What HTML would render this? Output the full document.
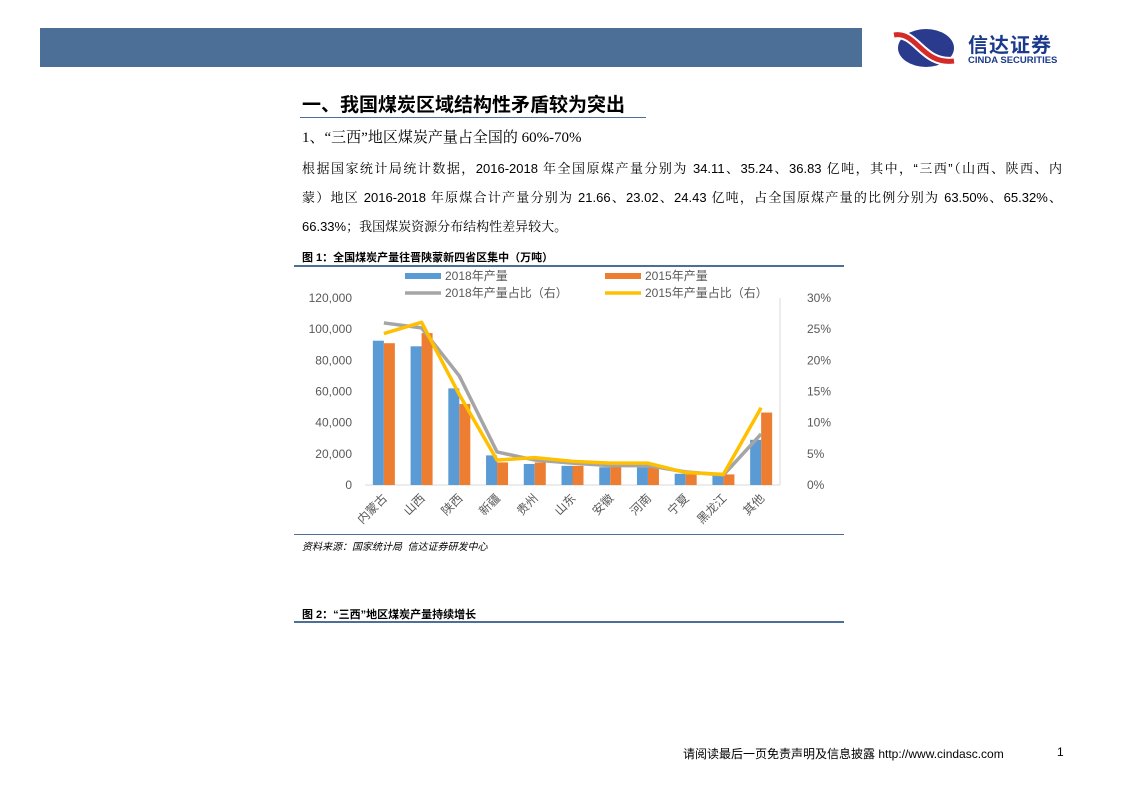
<!DOCTYPE html>
<html><head><meta charset="utf-8"><style>
body{margin:0;width:1122px;height:793px;background:#fff;position:relative;overflow:hidden;font-family:"Liberation Sans","Noto Sans CJK SC",sans-serif;color:#000}
.a{position:absolute;white-space:nowrap}
.p{position:absolute;left:302px;width:760px;font-size:13px;text-align:justify;text-align-last:justify;white-space:nowrap;font-family:"Liberation Sans","Noto Serif CJK SC",serif}
</style></head><body>
<div class="a" style="left:40px;top:28px;width:822px;height:39px;background:#4b6f97"></div>
<div class="a" style="left:892px;top:27px;width:200px;height:42px">
<svg width="70" height="42" viewBox="0 0 70 42"><ellipse cx="34" cy="21" rx="28" ry="19" fill="#2a3a8c"/><path d="M2 8 C25 4 30 38 62 34" stroke="#fff" stroke-width="9" fill="none"/><path d="M2 8 C25 4 30 38 62 34" stroke="#d42a2a" stroke-width="5" fill="none"/></svg>
<span class="a" style="left:76px;top:2px;font-size:20px;font-weight:bold;color:#1c3a8c;letter-spacing:1px">信达证券</span>
<span class="a" style="left:76px;top:28px;font-size:9.5px;font-weight:bold;color:#1c3a8c">CINDA SECURITIES</span>
</div>
<div class="a" style="left:302px;top:90px;font-size:19px;font-weight:bold">一、我国煤炭区域结构性矛盾较为突出</div>
<div class="a" style="left:300px;top:117px;width:346px;height:1px;background:#4b6f97"></div>
<div class="a" style="left:302px;top:126px;font-size:15px;font-family:'Liberation Serif','Noto Serif CJK SC',serif">1、“三西”地区煤炭产量占全国的 60%-70%</div>
<div>
<div class="p" style="top:158px">根据国家统计局统计数据，2016-2018 年全国原煤产量分别为 34.11、35.24、36.83 亿吨，其中，“三西”（山西、陕西、内</div>
<div class="p" style="top:187px">蒙）地区 2016-2018 年原煤合计产量分别为 21.66、23.02、24.43 亿吨，占全国原煤产量的比例分别为 63.50%、65.32%、</div>
<div class="p" style="top:216px;text-align-last:left">66.33%；我国煤炭资源分布结构性差异较大。</div>
</div>
<div class="a" style="left:302px;top:249px;font-size:11px;font-weight:bold">图 1：全国煤炭产量往晋陕蒙新四省区集中（万吨）</div>
<div class="a" style="left:294px;top:265px;width:550px;height:2px;background:#4b6f97"></div>
<svg class="a" id="chart" style="left:300px;top:268px" width="545" height="262"></svg>
<div class="a" style="left:294px;top:534px;width:550px;height:1px;background:#4b6f97"></div>
<div class="a" style="left:302px;top:538px;font-size:10px;font-style:italic">资料来源：国家统计局 &nbsp;信达证券研发中心</div>
<div class="a" style="left:302px;top:606px;font-size:11px;font-weight:bold">图 2：“三西”地区煤炭产量持续增长</div>
<div class="a" style="left:294px;top:621px;width:550px;height:2px;background:#4b6f97"></div>
<div class="a" style="left:683px;top:745px;font-size:12px">请阅读最后一页免责声明及信息披露 <span>http://www.cindasc.com</span></div>
<div class="a" style="left:1057px;top:745px;font-size:12px">1</div>
<script>
const categories=["内蒙古","山西","陕西","新疆","贵州","山东","安徽","河南","宁夏","黑龙江","其他"];
const prod2018=[92600,89000,62000,19000,13500,12300,11400,11300,7200,6000,29000];
const prod2015=[91000,97500,52000,14500,14500,12300,12300,12300,7000,6800,46500];
const share2018=[26,25.2,17.5,5.3,4,3.5,3.1,3.1,2.1,1.6,8.2];
const share2015=[24.3,26.1,14.5,4,4.4,3.8,3.5,3.5,2,1.7,12.4];
const leftTicks=[0,20000,40000,60000,80000,100000,120000];
const rightTicks=[0,5,10,15,20,25,30];
const svg=document.getElementById('chart');const NS='http://www.w3.org/2000/svg';
const x0=65,x1=480,y0=217,y1=30;
const yL=v=>y0-(v/120000)*(y0-y1);const yR=v=>y0-(v/30)*(y0-y1);
const bw=(x1-x0)/categories.length;const xc=i=>x0+bw*(i+0.5);
function mk(t,a){const e=document.createElementNS(NS,t);for(const k in a)e.setAttribute(k,a[k]);svg.appendChild(e);return e;}
let e;
e=mk('line',{x1:x0,y1:y0,x2:x1,y2:y0,stroke:'#d9d9d9'});


e=mk('line',{x1:x1,y1:y1,x2:x1,y2:y0,stroke:'#d9d9d9'});


leftTicks.forEach(v=>{e=mk('text',{x:52,y:yL(v)+4,'text-anchor':'end','font-size':12,fill:'#595959'});e.textContent=v.toLocaleString('en-US');

});
rightTicks.forEach(v=>{e=mk('text',{x:507,y:yR(v)+4,'font-size':12,fill:'#595959'});e.textContent=v+'%';

});
categories.forEach((c,i)=>{
e=mk('rect',{x:xc(i)-11,y:yL(prod2018[i]),width:11,height:y0-yL(prod2018[i]),fill:'#5b9bd5'});


e=mk('rect',{x:xc(i),y:yL(prod2015[i]),width:11,height:y0-yL(prod2015[i]),fill:'#ed7d31'});


e=mk('text',{x:xc(i)+4,y:y0+14,'text-anchor':'end','font-size':12,fill:'#595959',transform:`rotate(-45 ${xc(i)+4} ${y0+14})`});e.textContent=c;

});
function line(arr,col,name){const p=arr.map((v,i)=>xc(i)+','+yR(v)).join(' ');e=mk('polyline',{points:p,fill:'none',stroke:col,'stroke-width':3.5,'stroke-linejoin':'round'});

}
line(share2018,'#a5a5a5','line-share-2018');line(share2015,'#ffc000','line-share-2015');
const leg=[[105,12,'#5b9bd5','2018年产量',0],[305,12,'#ed7d31','2015年产量',0],[105,29,'#a5a5a5','2018年产量占比（右）',1],[305,29,'#ffc000','2015年产量占比（右）',1]];
leg.forEach(l=>{if(l[4])e=mk('line',{x1:l[0],y1:l[1]-4,x2:l[0]+36,y2:l[1]-4,stroke:l[2],'stroke-width':3.5});else e=mk('rect',{x:l[0],y:l[1]-7,width:36,height:6,fill:l[2]});


e=mk('text',{x:l[0]+40,y:l[1],'font-size':12,fill:'#595959'});e.textContent=l[3];

});
</script>
</body></html>
